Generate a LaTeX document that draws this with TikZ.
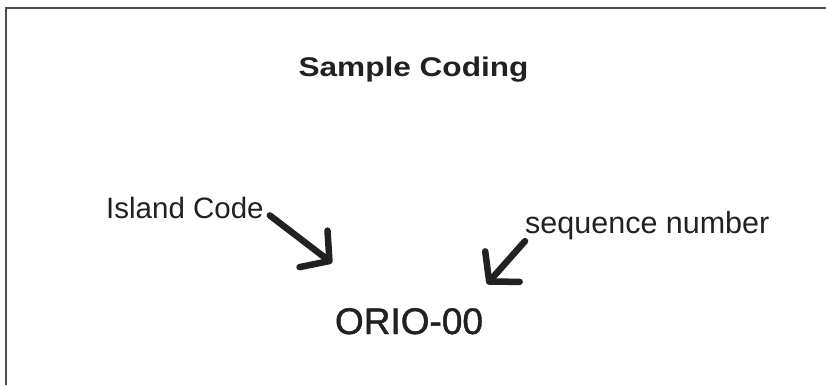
\documentclass[tikz,border=0pt]{standalone}
\usepackage{fontspec}
\setmainfont{Liberation Sans}
% slightly heavier regular face for the code sample
\newfontfamily\codefont{Liberation Sans}[FakeBold=1.2]
\usetikzlibrary{arrows.meta}
\tikzset{
  lbl/.style={inner sep=0pt, text=black!87},
  fatarrow/.style={line width=6.5pt, draw=black!87, line cap=round, line join=round,
    -{Straight Barb[length=20pt, width=46pt, line cap=round, line join=round]}},
  frame/.style={draw=black!70, line width=1.4pt}
}
\begin{document}
\begin{tikzpicture}[x=1pt, y=-1pt]
  \useasboundingbox (0,0) rectangle (826,385);
  \fill[white] (0,0) rectangle (826,385);
  % open frame: top and left edges only
  \draw[frame] (6,385) -- (6,8) -- (826,8);

  \node[lbl, anchor=base, font=\bfseries\fontsize{27}{30}\selectfont, xscale=1.17]
    (title) at (413.5,77) {Sample Coding};
  \node[lbl, anchor=base west, font=\fontsize{29.5}{32}\selectfont]
    (island) at (106,218) {Island Code};
  \node[lbl, anchor=base west, font=\fontsize{30.5}{33}\selectfont]
    (seq) at (525,233) {sequence number};
  \node[lbl, anchor=base, font=\codefont\fontsize{37}{40}\selectfont]
    (code) at (409,334) {ORIO-00};

  \coordinate (tipL) at (332,263);
  \coordinate (tipR) at (487,284);
  \draw[fatarrow] (island.east) ++(6,8) -- (tipL);
  \draw[fatarrow] (seq.west) ++(0,16) -- (tipR);
\end{tikzpicture}
\end{document}
